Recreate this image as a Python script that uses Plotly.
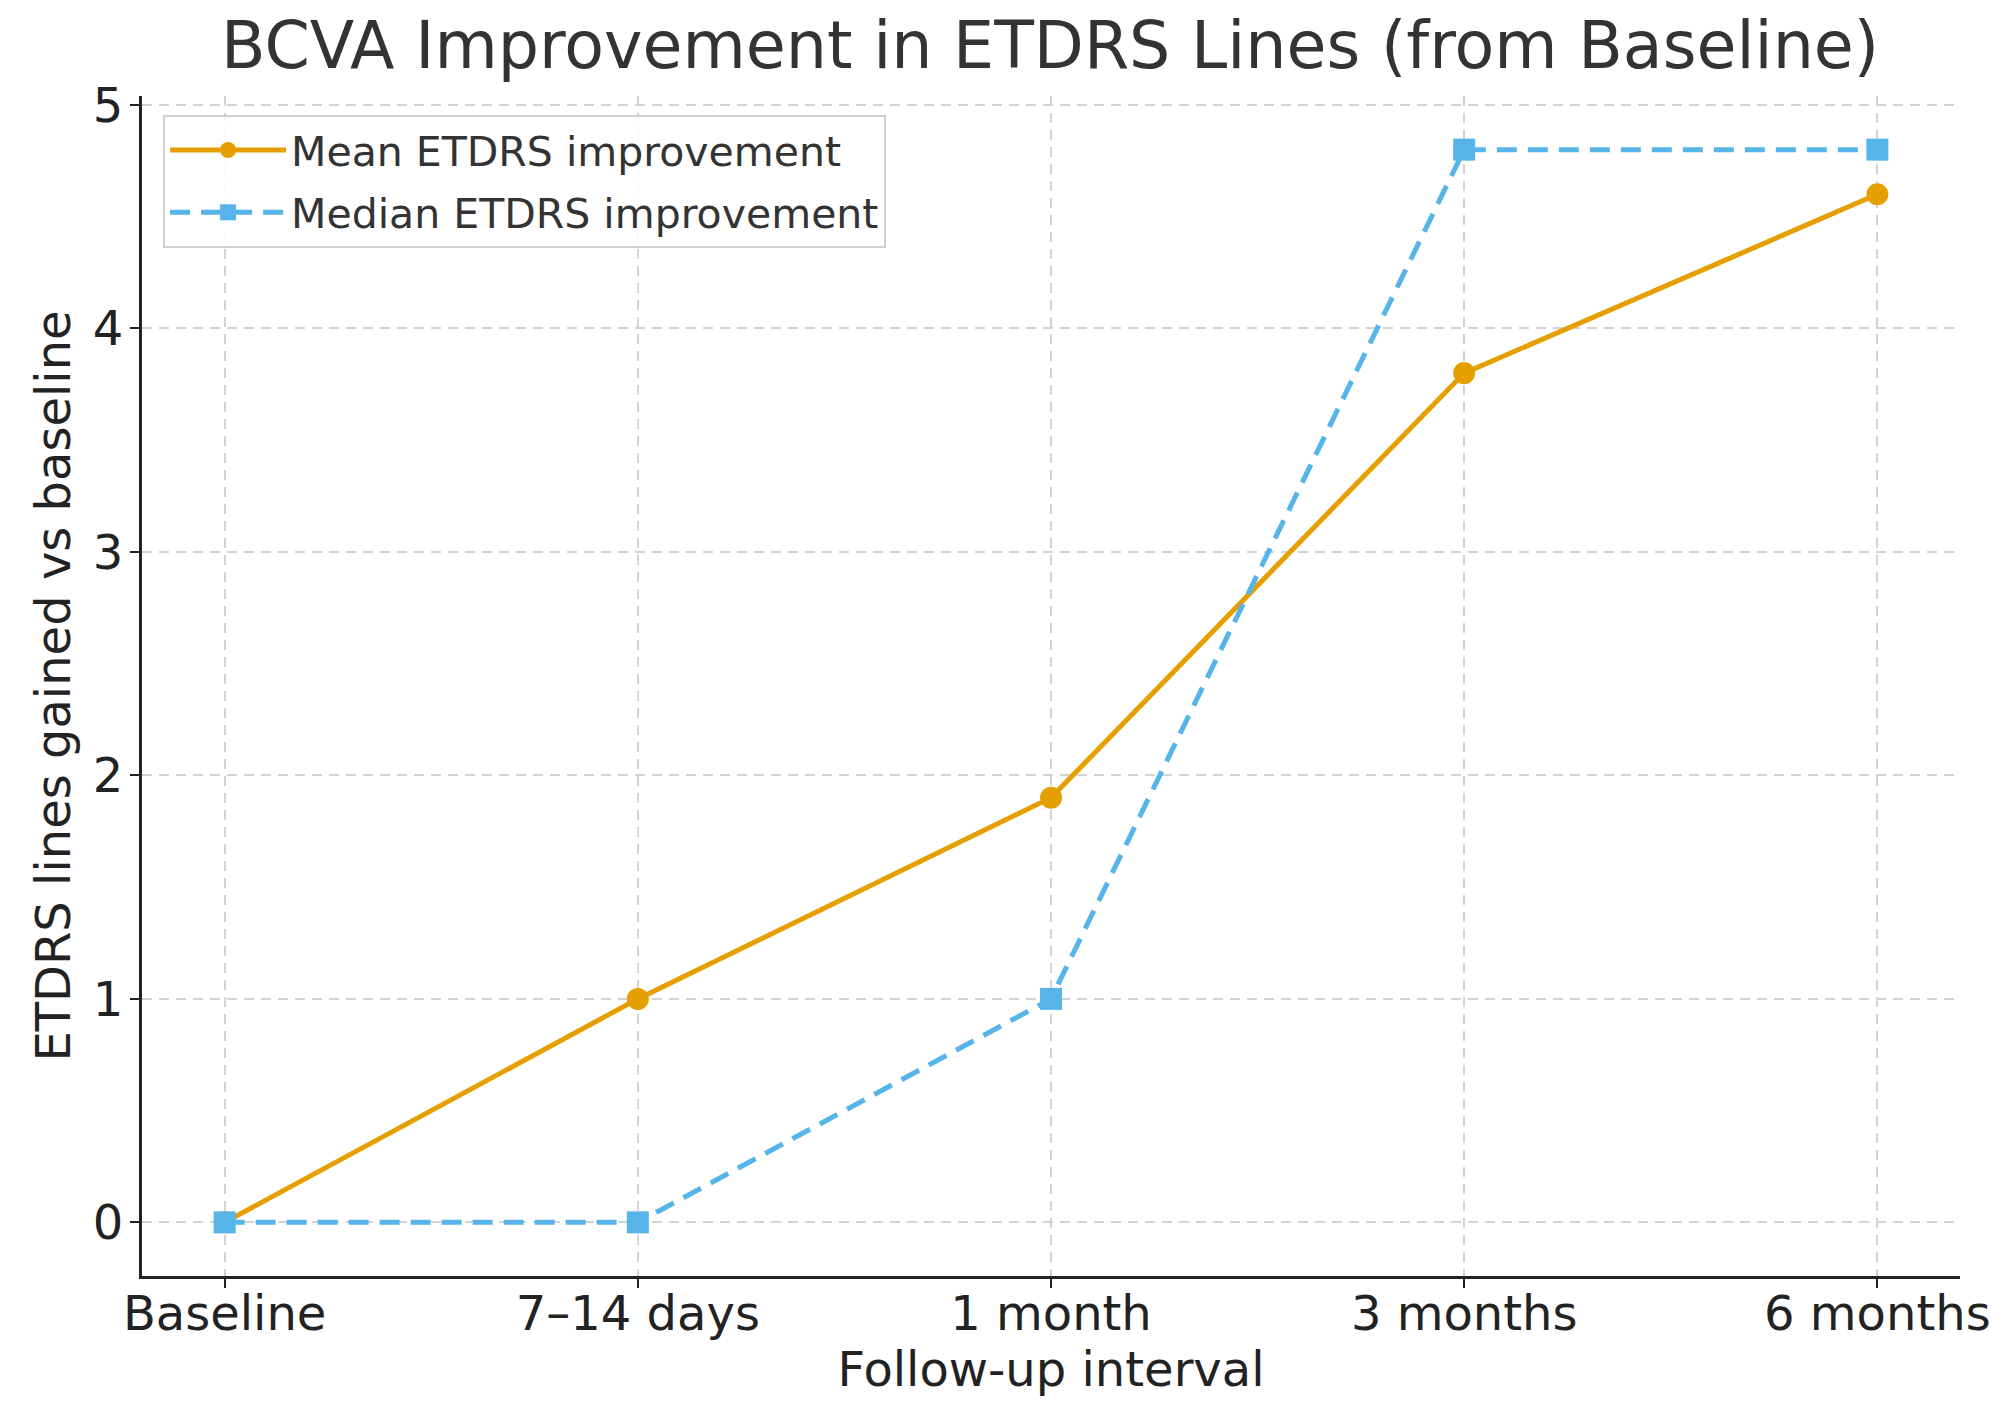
import plotly.graph_objects as go

intervals = ["Baseline", "7–14 days", "1 month", "3 months", "6 months"]
mean_improvement = [0.0, 1.0, 1.9, 3.8, 4.6]
median_improvement = [0.0, 0.0, 1.0, 4.8, 4.8]

FONT = "DejaVu Sans"
ORANGE = "#E69F00"
BLUE = "#56B4E9"

fig = go.Figure()
fig.add_trace(go.Scatter(
    x=intervals, y=mean_improvement, mode="lines+markers",
    name="Mean ETDRS improvement", legendgroup="mean",
    line=dict(color=ORANGE, width=5),
    marker=dict(symbol="circle", size=22, color=ORANGE),
))
fig.add_trace(go.Scatter(
    x=intervals, y=median_improvement, mode="lines+markers",
    name="Median ETDRS improvement", legendgroup="median",
    line=dict(color=BLUE, width=5, dash="20px,11px"),
    marker=dict(symbol="square", size=22, color=BLUE),
))

# page body has an 8px default margin: figure is 8px smaller and offset
fig.update_layout(
    width=1999, height=1405,
    paper_bgcolor="white", plot_bgcolor="white",
    margin=dict(l=134, r=47, t=88, b=137),
    font=dict(family=FONT, size=48, color="#222222"),
    title=dict(text="BCVA Improvement in ETDRS Lines (from Baseline)",
               x=0.5213, xanchor="center", y=0.9737, yanchor="middle",
               font=dict(family=FONT, size=65, color="#333333")),
    legend=dict(x=0.0116, y=0.984, xanchor="left", yanchor="top",
                bgcolor="rgba(255,255,255,0.85)", bordercolor="#d0d0d0",
                borderwidth=2, font=dict(family=FONT, size=41, color="#333333"),
                tracegroupgap=6, itemwidth=116),
    showlegend=True,
)

fig.update_xaxes(
    type="category", range=[-0.2, 4.2],
    showline=True, linecolor="#222222", linewidth=3,
    ticks="outside", ticklen=9, tickwidth=2, tickcolor="#222222",
    ticklabelstandoff=-16,
    showgrid=True, gridcolor="#d3d3d3", gridwidth=2, griddash="10px,7px",
    zeroline=False,
    title=dict(text="Follow-up interval", font=dict(size=48), standoff=8),
    tickfont=dict(size=48),
)
fig.update_yaxes(
    range=[-0.24, 5.04], tickvals=[0, 1, 2, 3, 4, 5],
    showline=True, linecolor="#222222", linewidth=3,
    ticks="outside", ticklen=9, tickwidth=2, tickcolor="#222222",
    ticklabelstandoff=-3,
    showgrid=True, gridcolor="#d3d3d3", gridwidth=2, griddash="10px,7px",
    zeroline=False,
    title=dict(text="ETDRS lines gained vs baseline", font=dict(size=48), standoff=8),
    tickfont=dict(size=48),
)

fig.write_html("out.html")
